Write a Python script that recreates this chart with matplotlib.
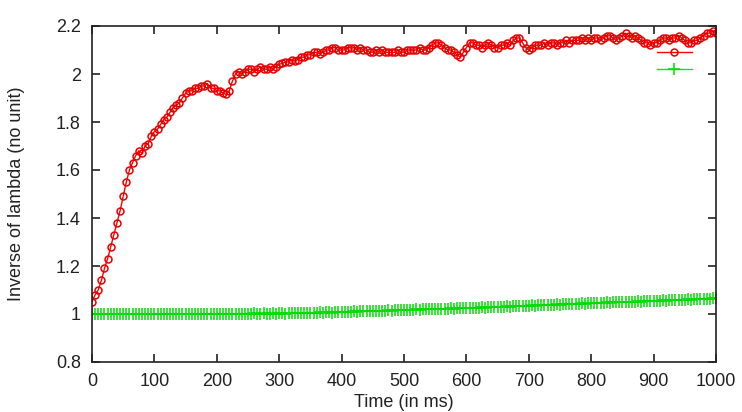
import matplotlib
matplotlib.use("Agg")
import matplotlib.pyplot as plt
import numpy as np

# Time axis (ms), sampled every 5 ms
time_ms = list(range(0, 1001, 5))

# Red series (inverse of lambda, upper curve)
red_values = [
    1.05, 1.08, 1.10, 1.14, 1.19, 1.23, 1.28, 1.33, 1.38, 1.43,
    1.49, 1.55, 1.60, 1.63, 1.66, 1.68, 1.67, 1.70, 1.71, 1.74,
    1.76, 1.77, 1.79, 1.81, 1.82, 1.84, 1.86, 1.87, 1.88, 1.90,
    1.92, 1.93, 1.93, 1.94, 1.94, 1.95, 1.95, 1.96, 1.94, 1.94,
    1.93, 1.93, 1.92, 1.915, 1.93, 1.97, 2.00, 2.01, 2.00, 2.01,
    2.02, 2.02, 2.01, 2.02, 2.03, 2.02, 2.02, 2.03, 2.02, 2.03,
    2.04, 2.045, 2.05, 2.05, 2.06, 2.055, 2.06, 2.07, 2.07, 2.08,
    2.08, 2.09, 2.09, 2.085, 2.09, 2.10, 2.10, 2.11, 2.11, 2.10,
    2.10, 2.10, 2.11, 2.11, 2.11, 2.10, 2.11, 2.10, 2.10, 2.09,
    2.09, 2.10, 2.09, 2.10, 2.09, 2.09, 2.09, 2.09, 2.10, 2.09,
    2.09, 2.10, 2.10, 2.10, 2.10, 2.11, 2.10, 2.10, 2.11, 2.12,
    2.13, 2.13, 2.12, 2.11, 2.10, 2.10, 2.09, 2.08, 2.07, 2.09,
    2.11, 2.13, 2.13, 2.12, 2.12, 2.11, 2.12, 2.13, 2.12, 2.11,
    2.11, 2.12, 2.12, 2.13, 2.12, 2.14, 2.15, 2.15, 2.13, 2.11,
    2.10, 2.11, 2.12, 2.12, 2.12, 2.13, 2.12, 2.13, 2.13, 2.12,
    2.13, 2.13, 2.14, 2.13, 2.14, 2.14, 2.14, 2.15, 2.14, 2.15,
    2.14, 2.15, 2.15, 2.14, 2.15, 2.16, 2.16, 2.15, 2.14, 2.15,
    2.16, 2.17, 2.16, 2.15, 2.16, 2.15, 2.14, 2.13, 2.13, 2.12,
    2.13, 2.13, 2.14, 2.15, 2.15, 2.14, 2.15, 2.15, 2.16, 2.15,
    2.14, 2.13, 2.13, 2.14, 2.14, 2.15, 2.16, 2.17, 2.17, 2.18,
    2.17,
]

# Green series (lower curve)
green_values = [
    1.000, 0.998, 1.001, 0.999, 1.000, 0.998, 1.001, 1.000, 0.999, 1.001,
    1.000, 0.999, 1.001, 0.998, 1.000, 1.001, 0.999, 1.000, 0.998, 1.001,
    1.000, 1.001, 0.999, 1.000, 1.002, 0.999, 1.000, 1.001, 0.999, 1.000,
    1.001, 1.000, 0.999, 1.002, 1.000, 1.001, 0.999, 1.000, 1.002, 1.001,
    1.000, 1.002, 1.001, 0.999, 1.001, 1.002, 1.000, 1.001, 1.002, 1.001,
    1.002, 1.001, 1.003, 1.001, 1.002, 1.003, 1.002, 1.001, 1.003, 1.002,
    1.003, 1.004, 1.002, 1.004, 1.005, 1.003, 1.004, 1.005, 1.004, 1.006,
    1.005, 1.006, 1.005, 1.007, 1.006, 1.008, 1.007, 1.006, 1.008, 1.009,
    1.008, 1.009, 1.010, 1.009, 1.011, 1.010, 1.011, 1.012, 1.011, 1.012,
    1.013, 1.012, 1.014, 1.013, 1.014, 1.015, 1.014, 1.016, 1.015, 1.016,
    1.017, 1.016, 1.018, 1.017, 1.019, 1.018, 1.019, 1.020, 1.019, 1.021,
    1.020, 1.022, 1.021, 1.022, 1.021, 1.023, 1.022, 1.024, 1.023, 1.025,
    1.024, 1.026, 1.025, 1.027, 1.026, 1.028, 1.027, 1.029, 1.028, 1.030,
    1.029, 1.031, 1.030, 1.032, 1.031, 1.033, 1.032, 1.034, 1.033, 1.035,
    1.034, 1.036, 1.035, 1.037, 1.036, 1.038, 1.037, 1.039, 1.038, 1.040,
    1.039, 1.041, 1.040, 1.042, 1.041, 1.043, 1.042, 1.044, 1.043, 1.045,
    1.044, 1.046, 1.045, 1.047, 1.046, 1.048, 1.047, 1.049, 1.048, 1.050,
    1.049, 1.051, 1.050, 1.052, 1.051, 1.053, 1.052, 1.054, 1.053, 1.055,
    1.054, 1.056, 1.055, 1.057, 1.056, 1.058, 1.057, 1.059, 1.058, 1.060,
    1.059, 1.061, 1.060, 1.062, 1.061, 1.063, 1.062, 1.064, 1.063, 1.065,
    1.065,
]

x_ticks = [0, 100, 200, 300, 400, 500, 600, 700, 800, 900, 1000]
y_ticks = [0.8, 1.0, 1.2, 1.4, 1.6, 1.8, 2.0, 2.2]
y_tick_labels = ["0.8", "1", "1.2", "1.4", "1.6", "1.8", "2", "2.2"]

plt.rcParams['font.family'] = ['Liberation Sans', 'DejaVu Sans']

fig = plt.figure(figsize=(7.42, 4.12), dpi=100)
ax = fig.add_axes([92/742, 50/412, (716-92)/742, (362-26)/412])

red_line, = ax.plot(time_ms, red_values, color='#ff0000', lw=1.0,
                    marker='o', markersize=5, markerfacecolor='none',
                    markeredgecolor='#e80000', markeredgewidth=1.1)
green_line, = ax.plot(time_ms, green_values, color='#00ee00', lw=1.0,
                      marker='+', markersize=8, markeredgecolor='#00dd00',
                      markeredgewidth=1.1)

ax.set_xlim(0, 1000)
ax.set_ylim(0.8, 2.2)
ax.set_xticks(x_ticks)
ax.set_yticks(y_ticks)
ax.set_yticklabels(y_tick_labels)
ax.tick_params(direction='in', length=6, width=1.2, top=True, right=True,
               labelsize=13, colors='#222222', pad=8)
for s in ax.spines.values():
    s.set_linewidth(1.2)
    s.set_color('#222222')

ax.set_xlabel("Time (in ms)", fontsize=13, labelpad=3, color='#222222')
ax.set_ylabel("Inverse of lambda (no unit)", fontsize=13, labelpad=22, color='#222222')

ax.legend([red_line, green_line], ['', ''], loc='upper right',
          bbox_to_anchor=(0.97, 0.958), frameon=False, handlelength=2.5,
          handletextpad=0, labelspacing=0.2, borderaxespad=0)

fig.savefig("out.png", dpi=100)
